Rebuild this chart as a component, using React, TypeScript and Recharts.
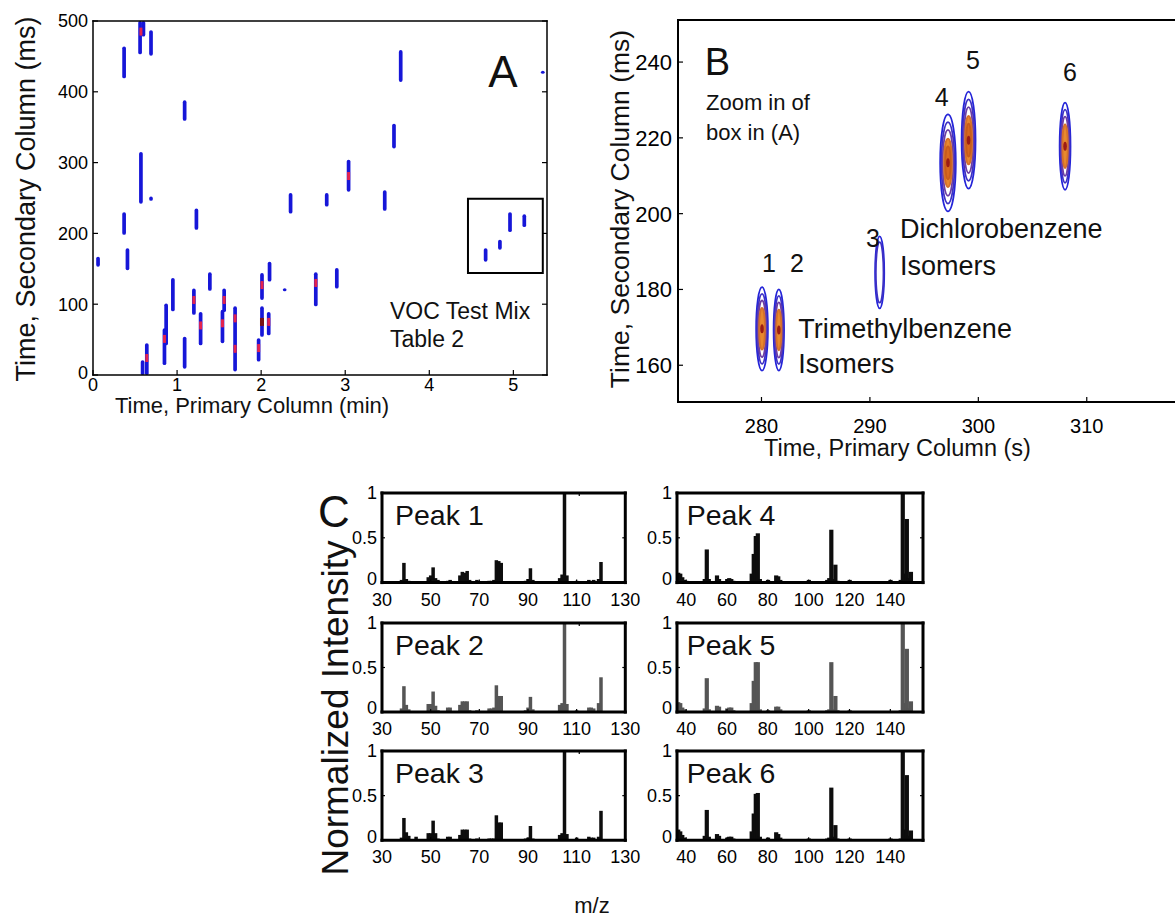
import React from "react";
import {
  ScatterChart,
  Scatter,
  BarChart,
  Bar,
  XAxis,
  YAxis,
  ReferenceArea,
} from "recharts";

const FONT = "'Liberation Sans', Arial, Helvetica, sans-serif";
const BLUE = "#1616d8";
const HOT = "#e4234d";
const DARK = "#7a1414";

// ---------- panel A: full 2D chromatogram (min / ms) ----------
const aTicksMin = [0, 1, 2, 3, 4, 5];
const aTicksMs = [0, 100, 200, 300, 400, 500];
const blobMin = [0.06, 0.37, 0.41, 0.37, 0.56, 0.6, 0.69, 0.57, 0.69, 0.59, 0.64, 0.85, 0.87, 0.95, 1.09, 1.09, 1.2, 1.23, 1.28, 1.39, 1.54, 1.56, 1.69, 1.97, 2.01, 2.01, 2.09, 2.1, 2.28, 2.35, 2.65, 2.78, 2.9, 3.04, 3.47, 3.58, 3.66, 4.67, 4.84, 4.96, 5.13, 5.35];
const blobLo = [153, 419, 148, 198, 453, 478, 451, 242, 246, 0, 0, 14, 42, 90, 359, 9, 85, 205, 42, 119, 45, 89, 5, 19, 106, 54, 56, 132, 119, 228, 97, 238, 122, 259, 232, 320, 414, 160, 177, 202, 209, 426];
const blobHi = [167, 464, 179, 230, 500, 500, 487, 315, 252, 21, 45, 66, 101, 137, 388, 54, 122, 235, 89, 145, 92, 122, 97, 52, 144, 97, 89, 160, 122, 257, 145, 257, 151, 304, 261, 355, 459, 179, 191, 230, 227, 429];
const hotMin = [0.57, 0.64, 0.85, 1.2, 1.28, 1.54, 1.56, 1.69, 1.69, 1.97, 2.01, 2.09, 2.65, 3.04];
const hotMs = [485, 24, 51, 106, 70, 73, 106, 80, 37, 38, 127, 75, 130, 281];
const darkMin = [2.01];
const darkMs = [75];
const boxMin = [4.46, 5.35];
const boxMs = [144, 249];

// ---------- panel B: zoom of the box (s / ms) ----------
const bTicksS = [280, 290, 300, 310];
const bTicksMs = [160, 180, 200, 220, 240];
const peakRt1 = [280.05, 281.6, 290.9, 297.2, 299.1, 308.0];
const peakRt2 = [169.6, 169.3, 184.5, 213.4, 219.4, 217.8];
const peakHalfW = [0.54, 0.48, 0.42, 0.72, 0.64, 0.5];
const peakHalfH = [11, 10.7, 9.5, 12.8, 12.8, 11.5];
const peakRings = [4, 4, 2, 5, 5, 4];

// ---------- panel C: mass spectra ----------
const mzTicksTMB = [30, 50, 70, 90, 110, 130];
const mzTicksDCB = [40, 60, 80, 100, 120, 140];
const intTicks = [0, 0.5, 1];
const mzTMB = [38, 39, 40, 41, 44, 49, 50, 51, 52, 53, 57, 58, 62, 63, 64, 65, 66, 69, 74, 75, 76, 77, 78, 79, 89, 90, 91, 92, 103, 104, 105, 106, 110, 115, 116, 117, 119, 120];
const peak1 = [0.03, 0.22, 0.04, 0.02, 0.01, 0.06, 0.08, 0.17, 0.05, 0.03, 0.02, 0.03, 0.08, 0.12, 0.11, 0.13, 0.03, 0.03, 0.02, 0.02, 0.03, 0.25, 0.24, 0.22, 0.02, 0.04, 0.16, 0.03, 0.05, 0.09, 1, 0.08, 0.02, 0.03, 0.02, 0.03, 0.04, 0.23];
const peak2 = [0.04, 0.29, 0.08, 0.03, 0, 0.09, 0.09, 0.23, 0.07, 0.02, 0.05, 0.05, 0.08, 0.12, 0.12, 0.12, 0.02, 0.02, 0.04, 0.04, 0.05, 0.3, 0.18, 0.18, 0.02, 0.05, 0.17, 0.03, 0.08, 0.1, 1, 0.09, 0.02, 0.05, 0.05, 0.04, 0.1, 0.39];
const peak3 = [0.03, 0.25, 0.09, 0.05, 0.04, 0.08, 0.08, 0.22, 0.08, 0.02, 0.04, 0.04, 0.06, 0.12, 0.12, 0.12, 0.02, 0.02, 0.02, 0.02, 0.02, 0.28, 0.2, 0.2, 0.02, 0.03, 0.16, 0.02, 0.06, 0.08, 1, 0.07, 0.03, 0.04, 0.03, 0.03, 0.04, 0.33];
const mzDCB = [36, 37, 38, 39, 40, 49, 50, 51, 55, 56, 60, 61, 62, 63, 72, 73, 74, 75, 76, 80, 84, 85, 86, 100, 109, 110, 111, 112, 113, 114, 120, 140, 145, 146, 147, 148, 149, 150];
const peak4 = [0.11, 0.1, 0.06, 0.03, 0.02, 0.04, 0.37, 0.04, 0.08, 0.04, 0.04, 0.05, 0.04, 0.02, 0.1, 0.32, 0.52, 0.55, 0.04, 0.03, 0.08, 0.07, 0.03, 0.03, 0.03, 0.05, 0.59, 0.04, 0.2, 0.02, 0.03, 0.03, 0.03, 1, 0.1, 0.71, 0.05, 0.12];
const peak5 = [0.11, 0.1, 0.05, 0.03, 0.01, 0.04, 0.38, 0.03, 0.07, 0.06, 0.04, 0.05, 0.05, 0.02, 0.1, 0.35, 0.56, 0.56, 0.03, 0.02, 0.06, 0.06, 0.03, 0.02, 0.02, 0.03, 0.56, 0.03, 0.18, 0.02, 0.02, 0, 0.02, 1, 0.1, 0.71, 0.04, 0.12];
const peak6 = [0.12, 0.1, 0.06, 0.03, 0.01, 0.05, 0.34, 0.04, 0.07, 0.05, 0.03, 0.04, 0.04, 0.02, 0.1, 0.3, 0.52, 0.53, 0.04, 0.03, 0.09, 0.07, 0.03, 0.02, 0.02, 0.03, 0.59, 0.04, 0.17, 0.02, 0.02, 0.02, 0.02, 1, 0.12, 0.73, 0.05, 0.11];

// contour ring styles, outermost first
const RING_SCALE = [1, 0.84, 0.68, 0.5, 0.34];
const RING_STROKE = ["#2424d8", "#3d30c4", "#6c3ea4", "#d4702a", "#c85c1c"];
const RING_FILL = ["none", "none", "none", "#e8892e", "#d8681f"];

const axisBase = {
  type: "number" as const,
  allowDataOverflow: true,
  interval: 0 as const,
  tickSize: 0,
  tickMargin: 0,
  tickLine: false,
};

type Side = "bottom" | "left" | "top" | "right";

// inward tick marks, like the matlab originals
// zeroLift nudges the "0" label of a left axis up, off the corner
function tickRenderer(side: Side, len: number, fontSize = 0, gap = 0, zeroLift = 0) {
  return (p: any) => {
    const { x, y, payload } = p;
    const label = fontSize > 0 ? String(payload.value) : null;
    const dy = 0.36 * fontSize;
    const txt = (tx: number, ty: number, anchor: string) =>
      label ? (
        <text x={tx} y={ty} textAnchor={anchor} fontSize={fontSize} fontFamily={FONT} fill="#000">
          {label}
        </text>
      ) : null;
    if (side === "bottom")
      return (
        <g>
          <line x1={x} x2={x} y1={y} y2={y - len} stroke="#000" strokeWidth={1.2} />
          {txt(x, y + gap + dy, "middle")}
        </g>
      );
    if (side === "left")
      return (
        <g>
          <line x1={x} x2={x + len} y1={y} y2={y} stroke="#000" strokeWidth={1.2} />
          {txt(x - gap, y + dy - (payload.value === 0 ? zeroLift : 0), "end")}
        </g>
      );
    if (side === "top")
      return <line x1={x} x2={x} y1={y} y2={y + len} stroke="#000" strokeWidth={1.2} />;
    return <line x1={x} x2={x - len} y1={y} y2={y} stroke="#000" strokeWidth={1.2} />;
  };
}

const blobShape = (p: any) => {
  const h = Math.max(Math.abs(p.height), 3);
  const y = p.y + p.height / 2 - h / 2;
  return <rect x={p.x} y={y} width={p.width} height={h} rx={p.width / 2} fill={BLUE} />;
};

function PanelA() {
  const box = { L: 93, T: 21, R: 547, B: 375 };
  const pad = { l: 60, t: 14, r: 14, b: 40 };
  const line = { stroke: "#000", strokeWidth: 1.5, strokeLinecap: "square" as const };
  const hot = hotMin.map((x, i) => ({ x, y: hotMs[i] }));
  const dark = darkMin.map((x, i) => ({ x, y: darkMs[i] }));
  return (
    <div style={{ position: "absolute", left: box.L - pad.l, top: box.T - pad.t }}>
      <ScatterChart
        width={box.R - box.L + pad.l + pad.r}
        height={box.B - box.T + pad.t + pad.b}
        margin={{ top: 0, right: 0, bottom: 0, left: 0 }}
      >
        <XAxis xAxisId="b" dataKey="x" domain={[0, 5.4]} ticks={aTicksMin} height={pad.b} axisLine={line} tick={tickRenderer("bottom", 5, 18, 9.5)} {...axisBase} />
        <XAxis xAxisId="t" orientation="top" domain={[0, 5.4]} ticks={aTicksMin} height={pad.t} axisLine={line} tick={tickRenderer("top", 5)} {...axisBase} />
        <YAxis yAxisId="l" dataKey="y" domain={[0, 500]} ticks={aTicksMs} width={pad.l} axisLine={line} tick={tickRenderer("left", 5, 18, 5, 2)} {...axisBase} />
        <YAxis yAxisId="r" orientation="right" domain={[0, 500]} ticks={aTicksMs} width={pad.r} axisLine={line} tick={tickRenderer("right", 5)} {...axisBase} />
        {blobMin.map((m, i) => (
          <ReferenceArea
            key={i}
            xAxisId="b"
            yAxisId="l"
            x1={m - 0.022}
            x2={m + 0.022}
            y1={blobLo[i]}
            y2={blobHi[i]}
            ifOverflow="visible"
            shape={blobShape}
          />
        ))}
        <ReferenceArea
          xAxisId="b"
          yAxisId="l"
          x1={boxMin[0]}
          x2={boxMin[1]}
          y1={boxMs[0]}
          y2={boxMs[1]}
          ifOverflow="visible"
          fill="none"
          fillOpacity={0}
          stroke="#000"
          strokeWidth={2}
          strokeOpacity={1}
        />
        <Scatter
          xAxisId="b"
          yAxisId="l"
          data={hot}
          isAnimationActive={false}
          shape={(p: any) => <rect x={p.cx - 1.5} y={p.cy - 4} width={3} height={8} fill={HOT} />}
        />
        <Scatter
          xAxisId="b"
          yAxisId="l"
          data={dark}
          isAnimationActive={false}
          shape={(p: any) => <rect x={p.cx - 2} y={p.cy - 4} width={4} height={8} fill={DARK} />}
        />
      </ScatterChart>
    </div>
  );
}

const ringShape = (k: number) => (p: any) => {
  const w = Math.abs(p.width);
  const h = Math.abs(p.height);
  return (
    <ellipse
      cx={p.x + p.width / 2}
      cy={p.y + p.height / 2}
      rx={w / 2}
      ry={h / 2}
      fill={RING_FILL[k]}
      stroke={RING_STROKE[k]}
      strokeWidth={1.8}
    />
  );
};

function PanelB() {
  const box = { L: 678, T: 19.7, R: 1180, B: 401.7 };
  const pad = { l: 70, t: 14, r: 0, b: 60 };
  const line = { stroke: "#000", strokeWidth: 2, strokeLinecap: "square" as const };
  const xd = [272.3, 318.6];
  const yd = [150.3, 251.1];
  const cores = peakRt1
    .map((x, i) => ({ x, y: peakRt2[i], rings: peakRings[i] }))
    .filter((d) => d.rings >= 4);
  return (
    <div style={{ position: "absolute", left: box.L - pad.l, top: box.T - pad.t }}>
      <ScatterChart
        width={box.R - box.L + pad.l + pad.r}
        height={box.B - box.T + pad.t + pad.b}
        margin={{ top: 0, right: 0, bottom: 0, left: 0 }}
      >
        <XAxis xAxisId="b" dataKey="x" domain={xd} ticks={bTicksS} height={pad.b} axisLine={line} tick={tickRenderer("bottom", 5, 20, 23.5)} {...axisBase} />
        <XAxis xAxisId="t" orientation="top" domain={xd} ticks={bTicksS} height={pad.t} axisLine={line} tick={tickRenderer("top", 5)} {...axisBase} />
        <YAxis yAxisId="l" dataKey="y" domain={yd} ticks={bTicksMs} width={pad.l} axisLine={line} tick={tickRenderer("left", 5, 22, 6)} {...axisBase} />
        {peakRt1.flatMap((x, i) =>
          RING_SCALE.slice(0, peakRings[i]).map((f, k) => (
            <ReferenceArea
              key={`${i}-${k}`}
              xAxisId="b"
              yAxisId="l"
              x1={x - peakHalfW[i] * f}
              x2={x + peakHalfW[i] * f}
              y1={peakRt2[i] - peakHalfH[i] * f}
              y2={peakRt2[i] + peakHalfH[i] * f}
              ifOverflow="visible"
              shape={ringShape(k)}
            />
          ))
        )}
        <Scatter
          xAxisId="b"
          yAxisId="l"
          data={cores}
          isAnimationActive={false}
          shape={(p: any) => <ellipse cx={p.cx} cy={p.cy} rx={1.8} ry={4.5} fill="#9c1c14" />}
        />
      </ScatterChart>
    </div>
  );
}

type SpecProps = {
  box: { L: number; T: number; R: number; B: number };
  mz: number[];
  vals: number[];
  domain: number[];
  ticks: number[];
  color: string;
  barW: number;
};

function Spectrum({ box, mz, vals, domain, ticks, color, barW }: SpecProps) {
  const pad = { l: 50, t: 12, r: 18, b: 34 };
  const data = mz.map((m, i) => ({ mz: m, v: vals[i] }));
  const line = { stroke: "#000", strokeWidth: 3, strokeLinecap: "square" as const };
  return (
    <div style={{ position: "absolute", left: box.L - pad.l, top: box.T - pad.t }}>
      <BarChart
        width={box.R - box.L + pad.l + pad.r}
        height={box.B - box.T + pad.t + pad.b}
        data={data}
        margin={{ top: 0, right: 0, bottom: 0, left: 0 }}
      >
        <XAxis xAxisId="b" dataKey="mz" domain={domain} ticks={ticks} height={pad.b} axisLine={line} tick={tickRenderer("bottom", 3, 18, 16.5)} {...axisBase} />
        <XAxis xAxisId="t" orientation="top" domain={domain} ticks={ticks} height={pad.t} axisLine={line} tick={tickRenderer("top", 3)} {...axisBase} />
        <YAxis yAxisId="l" domain={[0, 1]} ticks={intTicks} width={pad.l} axisLine={line} tick={tickRenderer("left", 3, 18, 5, 4)} {...axisBase} />
        <YAxis yAxisId="r" orientation="right" domain={[0, 1]} ticks={intTicks} width={pad.r} axisLine={line} tick={tickRenderer("right", 3)} {...axisBase} />
        <Bar
          xAxisId="b"
          yAxisId="l"
          dataKey="v"
          isAnimationActive={false}
          shape={(p: any) => (
            <rect x={p.x + p.width / 2 - barW / 2} y={p.y} width={barW} height={Math.max(p.height, 0)} fill={color} />
          )}
        />
      </BarChart>
    </div>
  );
}

const COLS = [
  { L: 381.7, R: 625 },
  { L: 676.7, R: 922.7 },
];
const ROWS = [
  { T: 492.7, B: 582.3 },
  { T: 622.7, B: 711.7 },
  { T: 750.7, B: 840 },
];

function Txt({ x, y, size, anchor = "start", rotate = false, children }: any) {
  return (
    <text
      x={x}
      y={y}
      fontSize={size}
      textAnchor={anchor}
      fontFamily={FONT}
      fill="#111"
      transform={rotate ? `rotate(-90 ${x} ${y})` : undefined}
    >
      {children}
    </text>
  );
}

export default function App() {
  const spectra = [
    { col: 0, row: 0, mz: mzTMB, vals: peak1, color: "#0d0d0d", name: "Peak 1" },
    { col: 0, row: 1, mz: mzTMB, vals: peak2, color: "#555555", name: "Peak 2" },
    { col: 0, row: 2, mz: mzTMB, vals: peak3, color: "#0d0d0d", name: "Peak 3" },
    { col: 1, row: 0, mz: mzDCB, vals: peak4, color: "#0d0d0d", name: "Peak 4" },
    { col: 1, row: 1, mz: mzDCB, vals: peak5, color: "#555555", name: "Peak 5" },
    { col: 1, row: 2, mz: mzDCB, vals: peak6, color: "#0d0d0d", name: "Peak 6" },
  ];
  return (
    <div
      style={{
        position: "absolute",
        left: 0,
        top: 0,
        width: 1175,
        height: 920,
        overflow: "hidden",
        background: "#fff",
        fontFamily: FONT,
      }}
    >
      <PanelA />
      <PanelB />
      {spectra.map((s) => (
        <Spectrum
          key={s.name}
          box={{ L: COLS[s.col].L, R: COLS[s.col].R, T: ROWS[s.row].T, B: ROWS[s.row].B }}
          mz={s.mz}
          vals={s.vals}
          domain={s.col === 0 ? [30, 130] : [35.5, 156]}
          ticks={s.col === 0 ? mzTicksTMB : mzTicksDCB}
          color={s.color}
          barW={s.col === 0 ? 3.5 : 4.2}
        />
      ))}
      <svg width={1175} height={920} style={{ position: "absolute", left: 0, top: 0, pointerEvents: "none" }}>
        {/* panel A */}
        <Txt x={503} y={87} size={44} anchor="middle">A</Txt>
        <Txt x={390} y={318.7} size={23}>VOC Test Mix</Txt>
        <Txt x={390} y={347.2} size={23}>Table 2</Txt>
        <Txt x={252} y={413} size={22} anchor="middle">Time, Primary Column (min)</Txt>
        <Txt x={34.7} y={199} size={27} anchor="middle" rotate>Time, Secondary Column (ms)</Txt>
        {/* panel B */}
        <Txt x={717.5} y={74.6} size={38} anchor="middle">B</Txt>
        <Txt x={706} y={109.6} size={22}>Zoom in of</Txt>
        <Txt x={706} y={139.6} size={22}>box in (A)</Txt>
        <Txt x={769} y={272} size={25} anchor="middle">1</Txt>
        <Txt x={797} y={272} size={25} anchor="middle">2</Txt>
        <Txt x={873} y={247} size={25} anchor="middle">3</Txt>
        <Txt x={941.7} y={105.7} size={25} anchor="middle">4</Txt>
        <Txt x={973} y={69} size={25} anchor="middle">5</Txt>
        <Txt x={1070} y={80.7} size={25} anchor="middle">6</Txt>
        <Txt x={900} y={237.7} size={27}>Dichlorobenzene</Txt>
        <Txt x={900} y={274.7} size={27}>Isomers</Txt>
        <Txt x={798.3} y={337.7} size={27}>Trimethylbenzene</Txt>
        <Txt x={798.3} y={372.7} size={27}>Isomers</Txt>
        <Txt x={897.5} y={456} size={23.5} anchor="middle">Time, Primary Column (s)</Txt>
        <Txt x={629} y={209} size={26.5} anchor="middle" rotate>Time, Secondary Column (ms)</Txt>
        {/* panel C */}
        <Txt x={334} y={526.8} size={44} anchor="middle">C</Txt>
        <Txt x={348} y={708} size={37} anchor="middle" rotate>Normalized Intensity</Txt>
        <Txt x={592} y={912.7} size={22} anchor="middle">m/z</Txt>
        {spectra.map((s) => (
          <Txt key={s.name} x={COLS[s.col].L + (s.col === 0 ? 13.3 : 10)} y={ROWS[s.row].T + 22 + 10.2} size={28.5}>
            {s.name}
          </Txt>
        ))}
      </svg>
    </div>
  );
}
